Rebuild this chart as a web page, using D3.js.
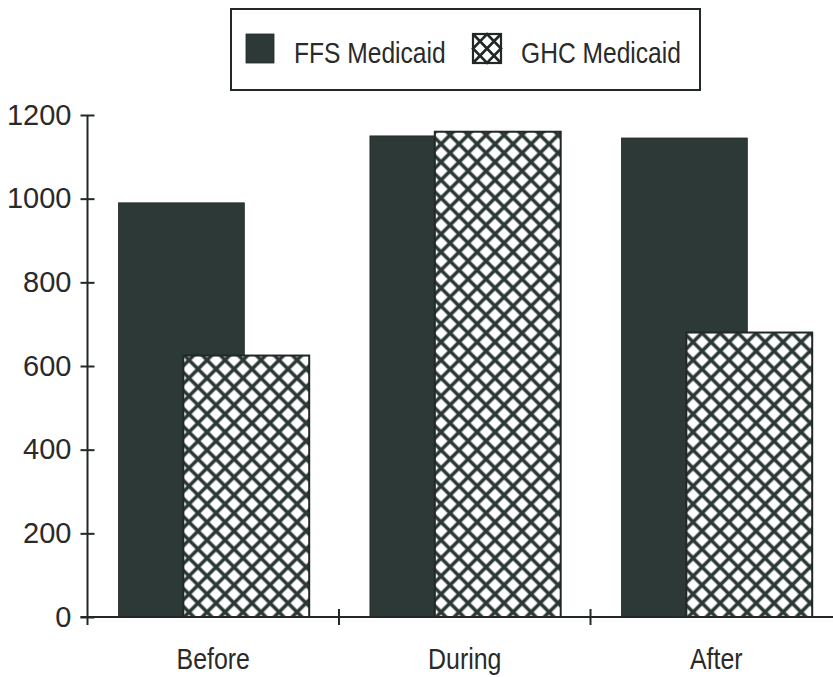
<!DOCTYPE html>
<html>
<head>
<meta charset="utf-8">
<script src="https://cdn.jsdelivr.net/npm/d3@7"></script>
<style>
  html, body { margin: 0; padding: 0; background: #ffffff; }
  svg { display: block; }
  .narrow { font-family: "Liberation Sans", Arial, sans-serif; }
  .ylab { font-family: "Liberation Sans", "DejaVu Sans", sans-serif; }
</style>
</head>
<body>
<svg id="chart" width="833" height="677"></svg>
<script>
// ---- data ----
const categories = ["Before", "During", "After"];
const seriesNames = ["FFS Medicaid", "GHC Medicaid"];
const ffsValues = [990, 1150, 1145];
const ghcValues = [625, 1160, 680];
const yTickValues = [0, 200, 400, 600, 800, 1000, 1200];

// ---- layout ----
const W = 833, H = 677;
const axisX = 87.5, zeroY = 617, topY = 115;
const dark = "#2c3937";
const ink = "#222826";

const svg = d3.select("#chart");

// crosshatch pattern for bars
const defs = svg.append("defs");
const pat = defs.append("pattern")
  .attr("id", "xhatch")
  .attr("patternUnits", "userSpaceOnUse")
  .attr("width", 12.73).attr("height", 12.73)
  .attr("patternTransform", "rotate(45)");
pat.append("rect").attr("width", 12.73).attr("height", 12.73).attr("fill", "#fff");
pat.append("line").attr("x1", 6.36).attr("x2", 6.36).attr("y1", 0).attr("y2", 12.73)
  .attr("stroke", dark).attr("stroke-width", 3.6);
pat.append("line").attr("y1", 6.36).attr("y2", 6.36).attr("x1", 0).attr("x2", 12.73)
  .attr("stroke", dark).attr("stroke-width", 3.6);

// scales
const x0 = d3.scaleBand().domain(categories).range([axisX, axisX + 3 * 251.5]).padding(0);
const bw = x0.bandwidth();
const x1 = d3.scaleBand().domain(seriesNames).range([0.123 * bw, 0.123 * bw + 2 * 0.258 * bw]).padding(0);
const barW = 2 * x1.bandwidth() * 0.97;
const y = d3.scaleLinear().domain([0, 1200]).range([zeroY, topY]);

const rows = categories.map((c, i) => ({ cat: c, vals: [ffsValues[i], ghcValues[i]] }));

// bars: FFS first, then GHC overlapping on top
const g = svg.append("g");
seriesNames.forEach((s, si) => {
  g.selectAll(".bar" + si)
    .data(rows)
    .enter().append("rect")
    .attr("x", d => x0(d.cat) + x1(s))
    .attr("y", d => y(d.vals[si]))
    .attr("width", barW)
    .attr("height", d => y(0) - y(d.vals[si]))
    .attr("fill", si === 0 ? dark : "url(#xhatch)")
    .attr("stroke", ink)
    .attr("stroke-width", si === 0 ? 0.8 : 2);
});

// y axis
const yAxis = d3.axisLeft(y).tickValues(yTickValues).tickSize(7).tickPadding(9).tickFormat(d3.format("d"));
const yg = svg.append("g").attr("transform", `translate(${axisX},0)`).call(yAxis);
yg.select(".domain").remove();
yg.selectAll(".tick line").attr("x1", -7).attr("x2", 7).attr("stroke", ink).attr("stroke-width", 2);
yg.selectAll(".tick text").attr("class", "ylab").attr("font-size", 29).attr("fill", "#2a2a2a");
yg.append("line").attr("x1", 0).attr("x2", 0).attr("y1", topY).attr("y2", zeroY + 8)
  .attr("stroke", ink).attr("stroke-width", 2);

// x axis
const xAxis = d3.axisBottom(x0).tickSize(0).tickPadding(31);
const xg = svg.append("g").attr("transform", `translate(0,${zeroY})`).call(xAxis);
xg.select(".domain").remove();
xg.selectAll(".tick text").attr("class", "narrow").attr("font-size", 29).attr("fill", "#2a2a2a")
  .attr("transform", "scale(0.86,1)");
xg.append("line").attr("x1", axisX - 7).attr("x2", W).attr("y1", 0).attr("y2", 0)
  .attr("stroke", ink).attr("stroke-width", 2);
xg.selectAll(".sep").data(categories.slice(0, -1)).enter().append("line")
  .attr("x1", d => x0(d) + bw).attr("x2", d => x0(d) + bw)
  .attr("y1", -8).attr("y2", 8).attr("stroke", ink).attr("stroke-width", 2);

// legend
const lg = svg.append("g");
lg.append("rect").attr("x", 231).attr("y", 9).attr("width", 469).attr("height", 81)
  .attr("fill", "#fff").attr("stroke", ink).attr("stroke-width", 2);
const legendX = [246, 473];
const sw = 28, sh = 29, sy = 34;
seriesNames.forEach((s, i) => {
  const sx = legendX[i];
  lg.append("rect").attr("x", sx).attr("y", sy).attr("width", sw).attr("height", sh)
    .attr("fill", i === 0 ? dark : "#fff").attr("stroke", ink).attr("stroke-width", i === 0 ? 0.8 : 2.2);
  if (i === 1) {
    const p = d3.path();
    p.moveTo(sx, sy); p.lineTo(sx + sw, sy + sh);
    p.moveTo(sx + sw, sy); p.lineTo(sx, sy + sh);
    p.moveTo(sx + sw / 2, sy); p.lineTo(sx + sw, sy + sh / 2);
    p.lineTo(sx + sw / 2, sy + sh); p.lineTo(sx, sy + sh / 2); p.closePath();
    lg.append("path").attr("d", p.toString()).attr("fill", "none")
      .attr("stroke", ink).attr("stroke-width", 2.6);
  }
  lg.append("text").attr("class", "narrow")
    .attr("transform", `translate(${sx + 48},62.5) scale(0.82,1)`)
    .attr("font-size", 30).attr("fill", "#2a2a2a").text(s);
});
</script>
</body>
</html>
